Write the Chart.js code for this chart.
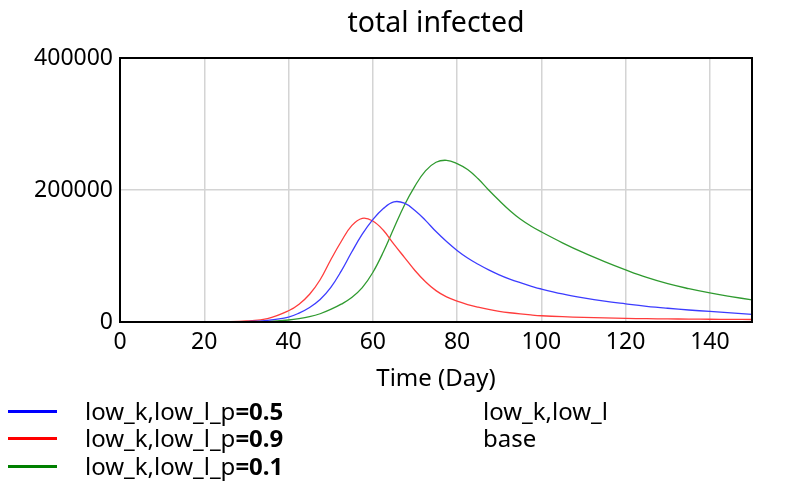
<!DOCTYPE html>
<html>
<head>
<meta charset="utf-8">
<title>total infected</title>
<script src="https://cdn.jsdelivr.net/npm/chart.js@4.4.1/dist/chart.umd.min.js"></script>
<style>
    html, body {
        margin: 0;
        padding: 0;
        background: #fff;
        width: 798px;
        height: 488px;
        overflow: hidden;
        font-family: "Noto Sans", sans-serif;
    }
    .chart-wrap {
        position: absolute;
        left: 0;
        top: 0;
        width: 798px;
        height: 395px;
    }
    .legend-row {
        position: absolute;
        left: 0;
        height: 26px;
        line-height: 26px;
        font-size: 24px;
        color: #000;
        white-space: nowrap;
    }
    .legend-line {
        position: absolute;
        left: 8px;
        top: 12px;
        width: 49px;
        height: 3px;
    }
    .legend-text {
        position: absolute;
        left: 85px;
    }
    .legend-text b { font-weight: 700; }
    .legend-note {
        position: absolute;
        left: 483px;
        font-size: 24px;
        line-height: 26px;
        color: #000;
        white-space: nowrap;
    }
</style>
</head>
<body>
<div class="chart-wrap"><canvas id="infectedChart"></canvas></div>
<div id="legend"></div>

<script>
// Time axis (days) shared by all runs
const days = [0, 5, 10, 15, 20, 25, 30, 35, 40, 42.5, 45, 47.5, 50, 52.5, 55, 57.5, 60, 62.5, 65, 67.5,
    70, 72.5, 75, 77.5, 80, 82.5, 85, 87.5, 90, 92.5, 95, 97.5, 100, 105, 110, 115, 120, 125, 130, 135,
    140, 145, 150];

// total infected per run
const infectedP05 = [0, 0, 0, 0, 50, 150, 600, 2500, 7500, 13500, 22000, 34000, 52000, 77000, 106000, 133000,
    155000, 172000, 182000, 180000, 169000, 154000, 137000, 122000, 108500, 97000, 87500, 79000, 71500, 65000,
    59500, 54500, 50000, 42500, 36500, 31500, 27500, 23800, 20800, 18200, 16000, 13800, 11600];
const infectedP09 = [0, 0, 0, 0, 100, 400, 1500, 5000, 17000, 27000, 42000, 64000, 94000, 122000, 146000, 157000,
    153000, 139000, 118000, 98000, 78000, 61000, 47500, 38000, 31500, 26500, 22500, 19000, 16200, 14000,
    12200, 10700, 9500, 8000, 7000, 6100, 5500, 5000, 4700, 4400, 4200, 4000, 3800];
const infectedP01 = [0, 0, 0, 0, 20, 50, 200, 800, 3000, 5000, 8000, 12500, 19000, 27000, 37000, 52000,
    75000, 106000, 142000, 177000, 206000, 229000, 242000, 245000, 240000, 231000, 217000, 200000, 184000, 169000,
    156000, 145500, 136500, 120000, 105000, 91500, 79000, 67500, 58000, 50500, 44000, 38500, 33500];

const xTicks = [0, 20, 40, 60, 80, 100, 120, 140];
const yTicks = [0, 200000, 400000];

const runNames = ['low_k,low_l_p', 'low_k,low_l_p', 'low_k,low_l_p'];
const runValues = ['=0.5', '=0.9', '=0.1'];
const legendColors = ['#0000ff', '#ff0000', '#008000'];
const lineColors = ['#3c3cff', '#ff3c3c', '#2f9a2f'];
const runNotes = ['low_k,low_l', 'base'];

const FONT = '"Noto Sans", sans-serif';

const toPoints = (values) => values.map((v, i) => ({ x: days[i], y: v }));

// Black frame round the plot area
const framePlugin = {
    id: 'frame',
    afterDatasetsDraw(chart) {
        const { ctx, chartArea: a } = chart;
        ctx.save();
        ctx.strokeStyle = '#000';
        ctx.lineWidth = 2;
        ctx.strokeRect(a.left, a.top, a.right - a.left, a.bottom - a.top);
        ctx.restore();
    }
};

// Title and x axis label, centred over the plot area
const labelsPlugin = {
    id: 'labels',
    afterDraw(chart) {
        const { ctx, chartArea: a } = chart;
        const cx = (a.left + a.right) / 2;
        ctx.save();
        ctx.fillStyle = '#000';
        ctx.textAlign = 'center';
        ctx.textBaseline = 'middle';
        ctx.font = '28.5px ' + FONT;
        ctx.fillText('total infected', cx, 24);
        ctx.font = '24px ' + FONT;
        ctx.fillText('Time (Day)', cx, 379);
        ctx.restore();
    }
};

function buildLegend() {
    const legend = document.getElementById('legend');
    const rowTops = [398, 425, 453];
    legend.innerHTML = runNames.map((name, i) => `
        <div class="legend-row" style="top:${rowTops[i]}px">
            <div class="legend-line" style="background:${legendColors[i]}"></div>
            <span class="legend-text">${name}<b>${runValues[i]}</b></span>
        </div>
    `).join('') + runNotes.map((note, i) => `
        <div class="legend-note" style="top:${rowTops[i]}px">${note}</div>
    `).join('');
}

function buildChart() {
    const ctx = document.getElementById('infectedChart').getContext('2d');
    const series = [infectedP05, infectedP09, infectedP01];

    return new Chart(ctx, {
        type: 'line',
        data: {
            datasets: series.map((values, i) => ({
                label: runNames[i] + runValues[i],
                data: toPoints(values),
                borderColor: lineColors[i],
                borderWidth: 1.3,
                pointRadius: 0,
                tension: 0.4,
                fill: false
            }))
        },
        options: {
            responsive: true,
            maintainAspectRatio: false,
            animation: false,
            layout: {
                padding: { top: 58, right: 46, left: 0, bottom: 0 }
            },
            plugins: {
                legend: { display: false },
                title: { display: false },
                tooltip: { enabled: false }
            },
            scales: {
                x: {
                    type: 'linear',
                    min: 0,
                    max: 150,
                    afterBuildTicks: (scale) => {
                        scale.ticks = xTicks.map(v => ({ value: v }));
                    },
                    afterFit: (scale) => { scale.height = 73; },
                    border: { display: false },
                    grid: { color: '#d4d4d4', lineWidth: 1.5, drawTicks: false },
                    ticks: {
                        color: '#000',
                        padding: 7,
                        maxRotation: 0,
                        font: { family: FONT, size: 23 },
                        callback: (v) => String(v)
                    }
                },
                y: {
                    min: 0,
                    max: 400000,
                    afterBuildTicks: (scale) => {
                        scale.ticks = yTicks.map(v => ({ value: v }));
                    },
                    afterFit: (scale) => { scale.width = 120; },
                    border: { display: false },
                    grid: { color: '#d4d4d4', lineWidth: 1.5, drawTicks: false },
                    ticks: {
                        color: '#000',
                        padding: 7,
                        font: { family: FONT, size: 23 },
                        callback: (v) => String(v)
                    }
                }
            }
        },
        plugins: [framePlugin, labelsPlugin]
    });
}

document.addEventListener('DOMContentLoaded', () => {
    buildLegend();
    window.infectedChart = buildChart();
});
</script>
</body>
</html>
